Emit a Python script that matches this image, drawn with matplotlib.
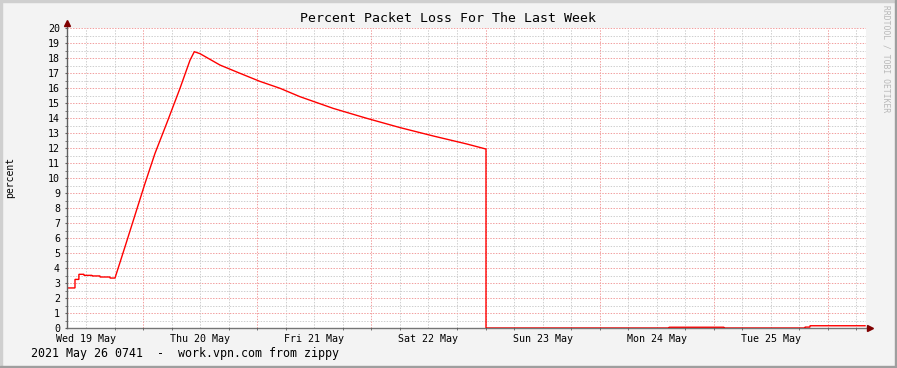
import matplotlib
matplotlib.use("Agg")
import matplotlib.pyplot as plt
from matplotlib.patches import Rectangle

# time in hours since Wed 19 May 00:00, values in percent
hours = [8.0, 9.68, 9.68, 10.5, 10.5, 11.57, 11.57, 13.26, 13.26, 14.94, 14.94,
         17.04, 17.04, 18.09,
         20.20, 22.30, 24.40, 26.50, 29.03, 31.76, 33.86, 34.77,
         35.96, 40.17, 44.37, 48.58, 52.79, 56.99, 63.99, 71.01, 78.02,
         85.02, 92.04, 96.10,
         96.10, 134.58, 134.58, 146.14, 146.14, 163.17, 163.17, 164.22, 164.22, 175.8]
loss = [2.67, 2.67, 3.24, 3.24, 3.58, 3.58, 3.51, 3.51, 3.47, 3.47, 3.40,
        3.40, 3.33, 3.33,
        5.42, 7.53, 9.64, 11.64, 13.70, 15.98, 17.85, 18.42,
        18.29, 17.53, 16.98, 16.44, 15.98, 15.42, 14.64, 13.98, 13.36,
        12.80, 12.27, 11.93,
        0.0, 0.0, 0.05, 0.05, 0.0, 0.0, 0.06, 0.06, 0.15, 0.15]

day_labels = ["Wed 19 May", "Thu 20 May", "Fri 21 May", "Sat 22 May",
              "Sun 23 May", "Mon 24 May", "Tue 25 May"]
title = "Percent Packet Loss For The Last Week"
footer = "2021 May 26 0741  -  work.vpn.com from zippy"

t0, t1 = 8.0, 176.0
W, H = 897, 368
mono = "DejaVu Sans Mono"

fig = plt.figure(figsize=(W / 100, H / 100), dpi=100, facecolor="#F3F3F3")
ax = fig.add_axes([67 / W, 40 / H, 799 / W, 300 / H])
ax.set_facecolor("white")
ax.set_xlim(t0, t1)
ax.set_ylim(0, 20)
for s in ax.spines.values():
    s.set_visible(False)

dot = dict(linewidth=0.72, dashes=(1.4, 1.4))
# minor grid
for h in range(12, 180, 6):
    if h % 24:
        ax.axvline(h, color="#CFCFCF", zorder=1, **dot)
for k in range(1, 40, 2):
    ax.axhline(k / 2, color="#CFCFCF", zorder=1, **dot)
# major grid
for h in range(24, 180, 24):
    ax.axvline(h, color="#F2A0A0", zorder=1.5, **dot)
for k in range(1, 21):
    ax.axhline(k, color="#F2A0A0", zorder=1.5, **dot)

ax.plot(hours, loss, color="#FF0000", linewidth=1.0, zorder=3,
        solid_joinstyle="miter")

# axes with arrows
ax.plot([t0, 176.9], [0, 0], color="#404040", alpha=0.7, linewidth=1.0,
        clip_on=False, zorder=4)
ax.plot([t0, t0], [0, 20.4], color="#606060", linewidth=1.0,
        clip_on=False, zorder=4)
ax.plot([176.9], [0], marker=">", color="#800000", markersize=4.5,
        clip_on=False, zorder=5)
ax.plot([t0], [20.35], marker="^", color="#800000", markersize=4.5,
        clip_on=False, zorder=5)

ax.set_yticks(range(0, 21))
ax.set_yticks([k / 2 for k in range(1, 40, 2)], minor=True)
ax.set_xticks([12 + 24 * i for i in range(7)])
ax.set_xticklabels(day_labels)
ax.set_xticks([h for h in range(12, 180, 6)], minor=True)
ax.tick_params(axis="x", which="major", length=0, pad=4.0,
               labelsize=7.2, labelfontfamily=mono)
ax.tick_params(axis="x", which="minor", length=1.5, color="#606060")
ax.tick_params(axis="y", which="both", length=1.5, color="#606060",
               pad=3.5, labelsize=7.2, labelfontfamily=mono)

fig.text(448 / W, 1 - 19 / H, title, ha="center", va="center",
         fontsize=9.5, family=mono)
fig.text(31 / W, 1 - 354 / H, footer, ha="left", va="center",
         fontsize=8.4, family=mono)
fig.text(10 / W, 1 - 177 / H, "percent", ha="center", va="center",
         rotation=90, fontsize=7.0, family=mono)
fig.text(886 / W, 1 - 59 / H, "RRDTOOL / TOBI OETIKER", ha="center",
         va="center", rotation=270, fontsize=5.8, family=mono, color="#B8B8B8")

# 3D shade border
fig.patches.append(Rectangle((0, 0), 2 / W, 1, transform=fig.transFigure,
                             color="#CFCFCF", zorder=10))
fig.patches.append(Rectangle((0, 1 - 2 / H), 1, 2 / H, transform=fig.transFigure,
                             color="#CFCFCF", zorder=10))
fig.patches.append(Rectangle((1 - 2 / W, 0), 2 / W, 1, transform=fig.transFigure,
                             color="#9E9E9E", zorder=10))
fig.patches.append(Rectangle((0, 0), 1, 2 / H, transform=fig.transFigure,
                             color="#9E9E9E", zorder=10))

fig.savefig("out.png", dpi=100, facecolor=fig.get_facecolor())
